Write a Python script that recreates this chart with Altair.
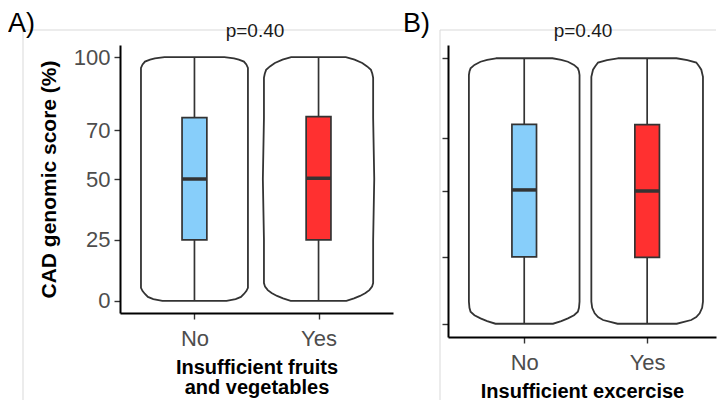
import altair as alt
import pandas as pd

FONT = "Liberation Sans"

groups = ["No", "Yes"]
group_pos = [1, 2]
fill_colors = ["#87CEFA", "#FF3030"]
p_text = "p=0.40"

# ---- Panel A: Insufficient fruits and vegetables ----
a_min = [0, 0]
a_q1 = [25.0, 25.0]
a_med = [50.0, 50.3]
a_q3 = [75.2, 75.6]
a_max = [100, 100]
a_violin_halfwidth = [0.431, 0.44]
a_no_vals = [0, 0.7, 1.6, 2.8, 4.0, 5.3, 25, 50, 75, 95.6, 97.0, 98.2, 99.0, 99.5, 100]
a_no_frac = [0.60, 0.77, 0.87, 0.925, 0.97, 1.0, 1.0, 1.0, 1.0, 1.0, 0.97, 0.925, 0.83, 0.74, 0.56]
a_yes_vals = [0, 1.0, 2.0, 3.2, 4.4, 5.8, 7.3, 25, 50, 75, 91.5, 93.2, 94.8, 96.2, 97.6, 99.0, 100]
a_yes_frac = [0.51, 0.65, 0.76, 0.86, 0.93, 0.98, 1.0, 1.0, 1.02, 1.0, 1.0, 0.985, 0.96, 0.89, 0.80, 0.66, 0.50]

# ---- Panel B: Insufficient excercise ----
b_min = [0, 0]
b_q1 = [25.2, 25.0]
b_med = [50.4, 50.0]
b_q3 = [75.1, 75.0]
b_max = [100, 100]
b_violin_halfwidth = [0.45, 0.454]
b_no_vals = [0, 1.0, 2.0, 3.2, 4.5, 6.0, 8.3, 25, 50, 75, 93.7, 95.0, 96.2, 97.5, 98.7, 99.4, 100]
b_no_frac = [0.52, 0.67, 0.79, 0.90, 0.97, 0.99, 1.0, 1.0, 1.0, 1.0, 1.0, 0.99, 0.97, 0.90, 0.79, 0.67, 0.51]
b_yes_vals = [0, 1.4, 2.5, 3.9, 6.0, 8.3, 25, 50, 75, 93.0, 95.7, 97.0, 98.4, 99.3, 100]
b_yes_frac = [0.53, 0.79, 0.88, 0.94, 0.985, 1.0, 1.0, 1.0, 1.0, 1.0, 0.97, 0.93, 0.88, 0.72, 0.525]

y_ticks = [0, 25, 50, 70, 100]


def violin_df(halfwidths, vals_list, frac_list):
    rows = []
    for g, c, hw, vals, fr in zip(groups, group_pos, halfwidths, vals_list, frac_list):
        for v, f in zip(vals, fr):
            rows.append({"group": g, "value": v, "left": c - hw * f, "right": c + hw * f})
    return pd.DataFrame(rows)


def box_df(mins, q1, med, q3, maxs):
    return pd.DataFrame({
        "group": groups,
        "center": group_pos,
        "xlo": [c - 0.1 for c in group_pos],
        "xhi": [c + 0.1 for c in group_pos],
        "ymin": mins, "q1": q1, "med": med, "q3": q3, "ymax": maxs,
    })


one = pd.DataFrame({"t": [p_text]})
LINE = "#333333"


def make_panel(vdf, bdf, width, height, xdomain, ylabels, ytitle, xtitle,
               letter, letter_x, frame_left, frame_right):
    xs = alt.Scale(domain=xdomain, nice=False, zero=False)
    ys = alt.Scale(domain=[-5, 105], nice=False, zero=False)
    xa = alt.Axis(values=group_pos, labelExpr="datum.value == 1 ? 'No' : 'Yes'",
                  title=xtitle, labelPadding=9, titlePadding=8, titleLineHeight=20,
                  titleFontSize=20)
    if ylabels:
        ya = alt.Axis(values=y_ticks, title=ytitle, labelPadding=4, titlePadding=14,
                      titleFontSize=21)
    else:
        ya = alt.Axis(values=y_ticks, labels=False, title=None)

    frame_col = "#D9D9D9"
    frame_bottom = 355
    frames = [
        alt.Chart(one).mark_rule(color=frame_col, strokeWidth=1).encode(
            x=alt.value(frame_left), x2=alt.value(frame_right), y=alt.value(-15)),
        alt.Chart(one).mark_rule(color=frame_col, strokeWidth=1).encode(
            x=alt.value(frame_left), y=alt.value(-15), y2=alt.value(frame_bottom)),
    ]
    if frame_right < width:
        frames.append(alt.Chart(one).mark_rule(color=frame_col, strokeWidth=1).encode(
            x=alt.value(frame_right), y=alt.value(-15), y2=alt.value(frame_bottom)))

    violin = alt.Chart(vdf).mark_area(
        orient="horizontal", fill="white", stroke=LINE, strokeWidth=1.8
    ).encode(
        y=alt.Y("value:Q", scale=ys, axis=ya),
        x=alt.X("left:Q", scale=xs, axis=xa),
        x2="right:Q",
        detail="group:N",
    )
    whisker = alt.Chart(bdf).mark_rule(color=LINE, strokeWidth=1.7).encode(
        x=alt.X("center:Q", scale=xs, axis=xa),
        y=alt.Y("ymin:Q", scale=ys, axis=ya),
        y2="ymax:Q",
    )
    box = alt.Chart(bdf).mark_bar(stroke=LINE, strokeWidth=1.7).encode(
        x=alt.X("xlo:Q", scale=xs, axis=xa),
        x2="xhi:Q",
        y=alt.Y("q1:Q", scale=ys, axis=ya),
        y2="q3:Q",
        fill=alt.Fill("group:N", scale=alt.Scale(domain=groups, range=fill_colors), legend=None),
    )
    median = alt.Chart(bdf).mark_rule(color=LINE, strokeWidth=3.5).encode(
        x=alt.X("xlo:Q", scale=xs, axis=xa),
        x2="xhi:Q",
        y=alt.Y("med:Q", scale=ys, axis=ya),
    )
    ptxt = alt.Chart(one).mark_text(
        font=FONT, fontSize=19, color="#1A1A1A", align="center", baseline="alphabetic"
    ).encode(text="t:N", x=alt.value(135), y=alt.value(-8))
    letter_df = pd.DataFrame({"t": [letter]})
    ltxt = alt.Chart(letter_df).mark_text(
        font=FONT, fontSize=27, color="black", align="left", baseline="alphabetic"
    ).encode(text="t:N", x=alt.value(letter_x), y=alt.value(-13))

    return alt.layer(*frames, violin, whisker, box, median, ptxt, ltxt).properties(
        width=width, height=height)


panel_a = make_panel(
    violin_df(a_violin_halfwidth, [a_no_vals, a_yes_vals], [a_no_frac, a_yes_frac]),
    box_df(a_min, a_q1, a_med, a_q3, a_max),
    273, 268, [0.4, 2.6], True, "CAD genomic score (%)",
    ["Insufficient fruits", "and vegetables"], "A)", -112, -97, 288)

panel_b = make_panel(
    violin_df(b_violin_halfwidth, [b_no_vals, b_yes_vals], [b_no_frac, b_yes_frac]),
    box_df(b_min, b_q1, b_med, b_q3, b_max),
    268, 292, [0.38, 2.56], False, None,
    "Insufficient excercise", "B)", -45, -8, 268)

chart = alt.hconcat(panel_a, panel_b, spacing=55, bounds="flush").properties(
    padding={"left": 0, "top": 2, "right": 0, "bottom": 0}
).configure_axis(
    grid=False,
    domainColor="black", domainWidth=2,
    tickColor=LINE, tickWidth=1.4, tickSize=6,
    labelColor="#4D4D4D", labelFont=FONT, labelFontSize=22,
    titleFont=FONT, titleFontWeight="bold", titleColor="black",
).configure_view(strokeWidth=0)

chart.save("out.html", embed_options={"renderer": "svg", "actions": False})
